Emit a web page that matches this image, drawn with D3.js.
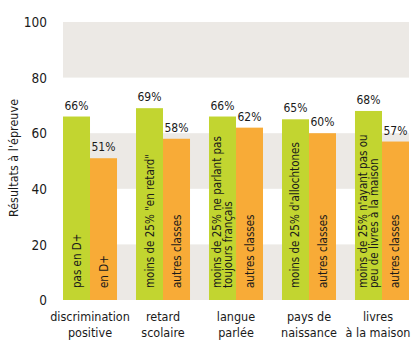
<!DOCTYPE html>
<html><head><meta charset="utf-8">
<script src="https://cdn.jsdelivr.net/npm/d3@7"></script>
<style>
body{margin:0;background:#fff;}
text{font-family:"DejaVu Sans Condensed","Liberation Sans Narrow",sans-serif;fill:#1a1a1a;}
</style></head>
<body><svg id="c" width="412" height="340"></svg>
<script>
const categories = [["discrimination","positive"],["retard","scolaire"],["langue","parlée"],["pays de","naissance"],["livres","à la maison"]];
const greenValues = [66,69,66,65,68];
const orangeValues = [51,58,62,60,57];
const greenLabels = [["pas en D+"],["moins de 25% \"en retard\""],["moins de 25% ne parlant pas","toujours français"],["moins de 25%  d'allochtones"],["moins de 25% n'ayant pas ou","peu de livres à la maison"]];
const orangeLabels = [["en D+"],["autres classes"],["autres classes"],["autres classes"],["autres classes"]];
const yTicks = [0,20,40,60,80,100];
const bands = [[0,20],[40,60],[80,100]];

const svg = d3.select("#c");
const y = d3.scaleLinear().domain([0,100]).range([300,22]);
const x = d3.scaleBand().domain(d3.range(categories.length)).range([63,409]).paddingInner(0.26).paddingOuter(0);
const xs = d3.scaleBand().domain(["g","o"]).range([0,x.bandwidth()]);
const GREEN="#c2d530", ORANGE="#f8ab37";

svg.selectAll("rect.band").data(bands).enter().append("rect")
  .attr("x",63).attr("width",409-63)
  .attr("y",d=>y(d[1])).attr("height",d=>y(d[0])-y(d[1]))
  .attr("fill","#ece9e5");

const yAxis = d3.axisLeft(y).tickValues(yTicks).tickSize(0).tickPadding(0);
const ga = svg.append("g").attr("transform","translate(47,0)").call(yAxis);
ga.select(".domain").remove();
ga.selectAll("text").attr("font-size",13.5).attr("font-family",null).attr("fill","#1a1a1a").attr("dy","0.35em");

svg.append("text").attr("transform","translate(18,158) rotate(-90)").attr("text-anchor","middle")
  .attr("font-size",12.5).text("Résultats à l'épreuve");

const g = svg.selectAll("g.grp").data(categories).enter().append("g").attr("transform",(d,i)=>`translate(${x(i)},0)`);

g.append("rect").attr("x",xs("g")).attr("width",xs.bandwidth()).attr("y",(d,i)=>y(greenValues[i])).attr("height",(d,i)=>y(0)-y(greenValues[i])).attr("fill",GREEN);
g.append("rect").attr("x",xs("o")).attr("width",xs.bandwidth()).attr("y",(d,i)=>y(orangeValues[i])).attr("height",(d,i)=>y(0)-y(orangeValues[i])).attr("fill",ORANGE);

g.append("text").attr("x",xs("g")+xs.bandwidth()/2).attr("y",(d,i)=>y(greenValues[i])-7).attr("text-anchor","middle").attr("font-size",12).text((d,i)=>greenValues[i]+"%");
g.append("text").attr("x",xs("o")+xs.bandwidth()/2).attr("y",(d,i)=>y(orangeValues[i])-7).attr("text-anchor","middle").attr("font-size",12).text((d,i)=>orangeValues[i]+"%");

function inner(sel, key, labels){
  sel.each(function(d,i){
    const lines = labels[i];
    const cx = xs(key)+xs.bandwidth()/2;
    const lh = 11;
    lines.forEach((ln,j)=>{
      const off = (j-(lines.length-1)/2)*lh + 4;
      d3.select(this).append("text").attr("transform",`translate(${cx+off},288) rotate(-90)`)
        .attr("font-size",11.5).text(ln);
    });
  });
}
inner(g,"g",greenLabels);
inner(g,"o",orangeLabels);

g.each(function(d,i){
  d3.select(this).selectAll("text.cat").data(d).enter().append("text").attr("class","cat")
    .attr("x",x.bandwidth()/2 - (i===4?4:0)).attr("y",(l,j)=>321+j*15.5).attr("text-anchor","middle").attr("font-size",12.5).text(l=>l);
});
</script></body></html>
